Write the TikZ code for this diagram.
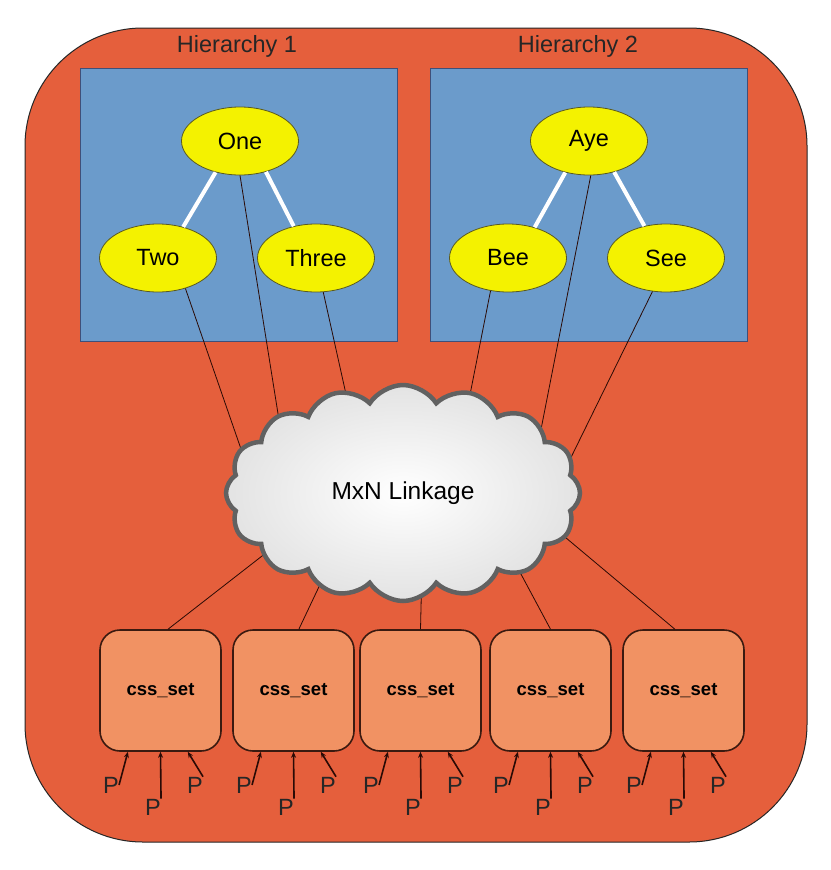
\documentclass[tikz,border=0pt]{standalone}
\usepackage{fontspec}
\setmainfont{Liberation Sans}
\usetikzlibrary{shapes.symbols,shapes.geometric,calc,arrows.meta}
\definecolor{outerfill}{HTML}{E55F3C}
\definecolor{bluefill}{HTML}{6B9BCB}
\definecolor{blueline}{HTML}{3F4F7A}
\definecolor{ellfill}{HTML}{F4F200}
\definecolor{ellline}{HTML}{5A5A20}
\definecolor{boxfill}{HTML}{F19263}
\definecolor{boxline}{HTML}{3A1A10}
\definecolor{linkcol}{HTML}{2A0A05}
\tikzset{
  ell/.style={ellipse, draw=ellline, line width=0.8pt, fill=ellfill, minimum width=117pt, minimum height=68pt, inner sep=0pt, font=\fontsize{23.5}{25}\selectfont},
  hbox/.style={draw=blueline, line width=1pt, fill=bluefill, minimum width=317pt, minimum height=273pt, inner sep=0pt},
  htitle/.style={font=\fontsize{23.5}{25}\selectfont, text=black!85},
  cssbox/.style={draw=boxline, line width=1.6pt, fill=boxfill, rounded corners=20pt, minimum width=121pt, minimum height=121pt, inner sep=0pt, font=\bfseries\fontsize{18.5}{20}\selectfont},
  plabel/.style={inner sep=0pt, font=\fontsize{23.5}{25}\selectfont, text=black!85},
  link/.style={draw=linkcol, line width=0.8pt},
  treeedge/.style={draw=white, line width=4pt},
  parrow/.style={-{Stealth[length=6pt,width=5pt]}, line width=1.6pt, draw=linkcol},
}
\begin{document}
\begin{tikzpicture}[x=1pt,y=-1pt]
\useasboundingbox[fill=white] (0,0) rectangle (830,870);
% outer container
\draw[fill=outerfill, draw=black!85, line width=1pt, rounded corners=118pt] (25,28) rectangle (807,842);
% hierarchy boxes
\node[hbox] (h1) at (238.5,204.5) {};
\node[hbox] (h2) at (589,204.5) {};
\node[htitle] (t1) at (237,46) {Hierarchy 1};
\node[htitle] (t2) at (578,46) {Hierarchy 2};
% trees
\node[ell] (one) at (240,141) {One};
\node[ell] (two) at (158,258) {Two};
\node[ell] (three) at (316,258) {Three};
\node[ell] (aye) at (589,141) {Aye};
\node[ell] (bee) at (508,258) {Bee};
\node[ell] (see) at (666,258) {See};
\draw[treeedge] (one.-128) -- (two.51);
\draw[treeedge] (one.-50) -- (three.125);
\draw[treeedge] (aye.-127) -- (bee.49);
\draw[treeedge] (aye.-51) -- (see.124);
% link end points hidden under the cloud
\coordinate (e1) at (250,475);
\coordinate (e2) at (283,445);
\coordinate (e3) at (354,430);
\coordinate (e4) at (463,430);
\coordinate (e5) at (535,460);
\coordinate (e6) at (555,490);
\coordinate (f1) at (280,542);
\coordinate (f2) at (334,555);
\coordinate (f3) at (422,565);
\coordinate (f4) at (507,548);
\coordinate (f5) at (553,527);
\draw[link] (two.-48) -- (e1);
\draw[link] (one.-90) -- (e2);
\draw[link] (three.-78) -- (e3);
\draw[link] (bee.-118) -- (e4);
\draw[link] (aye.-87) -- (e5);
\draw[link] (see.-112) -- (e6);
% css_set boxes
\foreach \i/\x/\a in {1/100/83, 2/233/85, 3/360/90, 4/490/90, 5/623/98}{
  \node[cssbox] (b\i) at (\x+60.5,690.5) {css\_set};
  \draw[link] (b\i.\a) -- (f\i);
  \node[plabel] (pl\i) at (\x+11,785) {P};
  \node[plabel] (pm\i) at (\x+53,807) {P};
  \node[plabel] (pr\i) at (\x+95,785) {P};
  \draw[parrow] (pl\i.east) -- (b\i.-118);
  \draw[parrow] (pm\i.north east) -- (b\i.-90);
  \draw[parrow] (pr\i.north east) -- (b\i.-66);
}
% cloud
\node[cloud, cloud puffs=16, cloud puff arc=115, aspect=1.65, minimum width=354pt, minimum height=216pt,
      draw=black!62, line width=4.5pt, inner color=white, outer color=black!11,
      font=\fontsize{24.5}{26}\selectfont] (cloud) at (403,493) {MxN Linkage};
\end{tikzpicture}
\end{document}
